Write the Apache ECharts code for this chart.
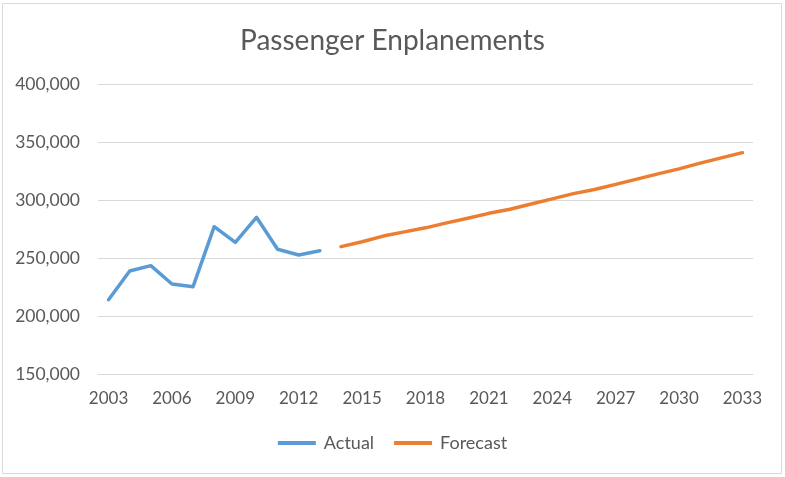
<!DOCTYPE html>
<html>
<head>
<meta charset="utf-8">
<script src="https://cdn.jsdelivr.net/npm/echarts@6/dist/echarts.min.js"></script>
<style>
html,body{margin:0;padding:0;background:#fff;}
#chart{width:785px;height:477px;}
</style>
</head>
<body>
<div id="chart"></div>
<script>
var years = ['2003','2004','2005','2006','2007','2008','2009','2010','2011','2012','2013','2014','2015','2016','2017','2018','2019','2020','2021','2022','2023','2024','2025','2026','2027','2028','2029','2030','2031','2032','2033'];
var actual = [214000,238800,243400,227600,225300,277000,263500,285100,257500,252600,256300,null,null,null,null,null,null,null,null,null,null,null,null,null,null,null,null,null,null,null,null];
var forecast = [null,null,null,null,null,null,null,null,null,null,null,259800,264000,268900,272500,276000,280300,284200,288500,292000,296500,301000,305500,309000,313500,318000,322500,326800,331800,336300,340800];
var yTicks = {min:150000, max:400000, step:50000};

var chart = echarts.init(document.getElementById('chart'), null, {renderer:'canvas'});
var font = 'Lato';
chart.setOption({
  animation:false,
  backgroundColor:'#ffffff',
  graphic:[{type:'rect', shape:{x:2.5,y:3.5,width:779,height:470}, style:{fill:'none', stroke:'#D9D9D9', lineWidth:1}, silent:true}],
  title:{text:'Passenger Enplanements', left:'center', top:22,
    textStyle:{fontFamily:font, fontWeight:'normal', fontSize:28, color:'#595959'}},
  grid:{left:98, right:32, top:84, bottom:103, containLabel:false},
  legend:{bottom:20, left:'center', itemWidth:38, itemHeight:4, itemGap:20, icon:'rect',
    textStyle:{fontFamily:font, fontSize:18, color:'#595959', padding:[0,0,0,3]},
    data:['Actual','Forecast']},
  xAxis:{type:'category', data:years, boundaryGap:true,
    axisTick:{show:false},
    axisLine:{show:true, lineStyle:{color:'#D9D9D9', width:1}},
    axisLabel:{interval:2, margin:16, fontFamily:font, fontSize:17, color:'#595959'},
    splitLine:{show:false}},
  yAxis:{type:'value', min:yTicks.min, max:yTicks.max, interval:yTicks.step,
    axisLine:{show:false}, axisTick:{show:false},
    axisLabel:{margin:18, fontFamily:font, fontSize:17.5, color:'#595959',
      formatter:function(v){return v.toLocaleString('en-US');}},
    splitLine:{lineStyle:{color:'#D9D9D9', width:1}}},
  series:[
    {name:'Actual', type:'line', data:actual, showSymbol:false, symbol:'none', connectNulls:false,
      itemStyle:{color:'#5B9BD5'}, lineStyle:{color:'#5B9BD5', width:3.5, cap:'round', join:'round'}},
    {name:'Forecast', type:'line', data:forecast, showSymbol:false, symbol:'none', connectNulls:false,
      itemStyle:{color:'#ED7D31'}, lineStyle:{color:'#ED7D31', width:3.5, cap:'round', join:'round'}}
  ]
});
</script>
</body>
</html>
